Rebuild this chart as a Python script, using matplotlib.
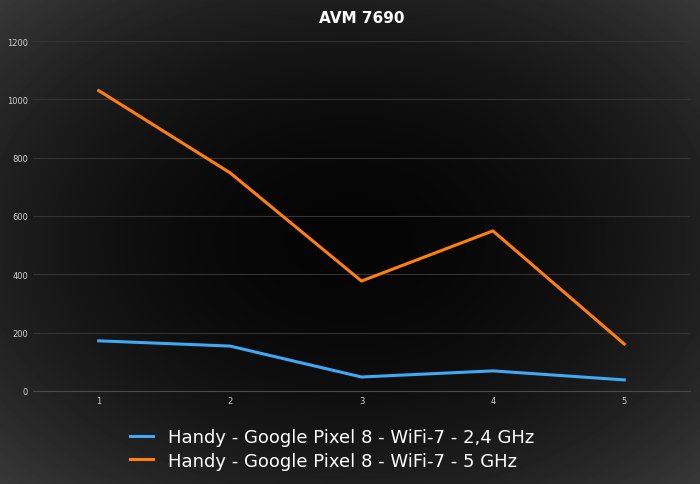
import matplotlib.pyplot as plt
import numpy as np

x = [1, 2, 3, 4, 5]
ghz24 = [172, 154, 48, 69, 38]
ghz5 = [1030, 748, 377, 549, 161]
labels = ['Handy - Google Pixel 8 - WiFi-7 - 2,4 GHz',
          'Handy - Google Pixel 8 - WiFi-7 - 5 GHz']

fig = plt.figure(figsize=(7, 4.85), dpi=100)

# radial gradient background
bg = fig.add_axes([0, 0, 1, 1], zorder=-10)
yy, xx = np.mgrid[-1:1:485j, -1:1:700j]
r = np.sqrt(xx**2 + yy**2)
bg.imshow(0.02 + 0.20 * np.clip(r / 1.41, 0, 1) ** 2, cmap='gray', vmin=0, vmax=1,
          aspect='auto', extent=[0, 1, 0, 1])
bg.axis('off')

ax = fig.add_axes([33 / 700, 1 - 392 / 485, 657 / 700, 350 / 485])
ax.patch.set_alpha(0)
ax.plot(x, ghz24, color='#3fa9f5', lw=2.2, label=labels[0])
ax.plot(x, ghz5, color='#ff7f0e', lw=2.2, label=labels[1])
ax.set_xlim(0.5, 5.5)
ax.set_ylim(0, 1200)
ax.set_yticks(range(0, 1201, 200))
ax.set_xticks(x)
ax.grid(axis='y', color='#333333', lw=0.8)
ax.set_axisbelow(True)
for s in ['top', 'right', 'left']:
    ax.spines[s].set_visible(False)
ax.spines['bottom'].set_color('#4a4a4a')
ax.tick_params(colors='#d0d0d0', labelsize=6, length=0)
ax.set_title('AVM 7690', color='white', fontsize=11, fontweight='bold', pad=14)
leg = ax.legend(loc='upper center', bbox_to_anchor=(0.455, -0.06), frameon=False,
                fontsize=13, labelcolor='white', handlelength=1.3, labelspacing=0.3)
plt.savefig('out.png', dpi=100)
